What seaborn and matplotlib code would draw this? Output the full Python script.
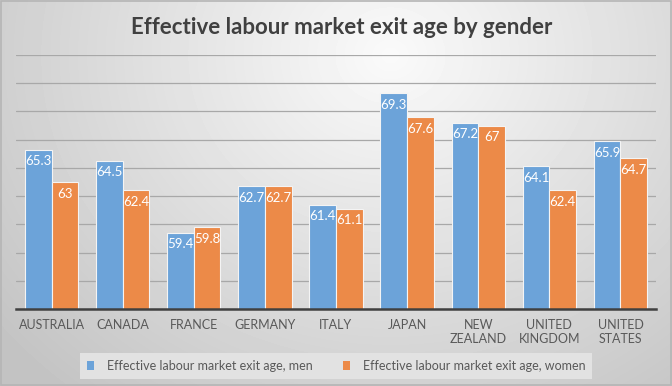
import numpy as np
import pandas as pd
import matplotlib.pyplot as plt
import seaborn as sns
from matplotlib.patches import Rectangle, Patch

# data
countries = ['AUSTRALIA', 'CANADA', 'FRANCE', 'GERMANY', 'ITALY', 'JAPAN',
             'NEW\nZEALAND', 'UNITED\nKINGDOM', 'UNITED\nSTATES']
men = [65.3, 64.5, 59.4, 62.7, 61.4, 69.3, 67.2, 64.1, 65.9]
women = [63, 62.4, 59.8, 62.7, 61.1, 67.6, 67, 62.4, 64.7]
series = ['Effective labour market exit age, men',
          'Effective labour market exit age, women']
colors = ['#6CA3D9', '#EC8A48']

df = pd.DataFrame({
    'country': countries * 2,
    'age': men + women,
    'series': [series[0]] * len(countries) + [series[1]] * len(countries),
})

sns.set_theme(style='white')
plt.rcParams['font.family'] = ['Lato', 'DejaVu Sans']

fig = plt.figure(figsize=(6.72, 3.86), dpi=100)

# grey radial gradient background like the Excel style
bg = fig.add_axes([0, 0, 1, 1], zorder=-10)
h, w = 386, 672
yy, xx = np.mgrid[0:h, 0:w]
d = np.sqrt(((xx - 390) / 480) ** 2 + ((yy - 55) / 420) ** 2)
shade = np.clip(250 - 52 * d, 195, 250) / 255
bg.imshow(shade, cmap='gray', vmin=0, vmax=1, extent=[0, 1, 0, 1],
          aspect='auto', interpolation='bilinear')
bg.add_patch(Rectangle((0.001, 0.002), 0.997, 0.995, fill=False,
                       edgecolor='#b5b5b5', lw=1.2, transform=bg.transAxes))
bg.set_axis_off()

ax = fig.add_axes([0.0238, 0.1995, 0.9524, 0.658])
ax.set_facecolor('none')

sns.barplot(data=df, x='country', y='age', hue='series', hue_order=series,
            palette=colors, saturation=1, width=0.75, edgecolor='#f4f4f4',
            linewidth=0.8, legend=False, ax=ax)

ax.set_ylim(54, 72)
ax.set_yticks(np.arange(54, 73, 2))
ax.set_yticklabels([])
ax.tick_params(axis='y', length=0)
ax.tick_params(axis='x', length=0, pad=7, labelsize=9, labelcolor='#595959')
ax.yaxis.grid(True, color='#a8a8a8', lw=0.9)
ax.set_axisbelow(True)
ax.set_xlim(-0.5, len(countries) - 0.5)
ax.set_xlabel('')
ax.set_ylabel('')
for s in ['top', 'right', 'left']:
    ax.spines[s].set_visible(False)
ax.spines['bottom'].set_color('#404040')
ax.spines['bottom'].set_linewidth(1.8)

# value labels inside the top of each bar
for cont in ax.containers:
    for bar in cont:
        val = bar.get_height()
        ax.annotate(f'{val:g}', (bar.get_x() + bar.get_width() / 2, val),
                    xytext=(0, -4), textcoords='offset points',
                    ha='center', va='top', color='white', fontsize=9.5)

fig.text(0.508, 1 - 27 / 386, 'Effective labour market exit age by gender',
         ha='center', va='center', fontsize=16, fontweight='bold',
         color='#404040')

handles = [Patch(facecolor=c, edgecolor='none') for c in colors]
leg = fig.legend(handles, series, loc='center', ncol=2,
                 bbox_to_anchor=(336 / 672, 1 - 366 / 386),
                 frameon=True, fancybox=False, facecolor='#e2e2e2',
                 edgecolor='none', framealpha=1, fontsize=9,
                 handlelength=0.6, handleheight=0.7, handletextpad=1.0,
                 columnspacing=2.4, borderpad=0.55)
for t in leg.get_texts():
    t.set_color('#595959')

fig.savefig('out.png', dpi=100)
